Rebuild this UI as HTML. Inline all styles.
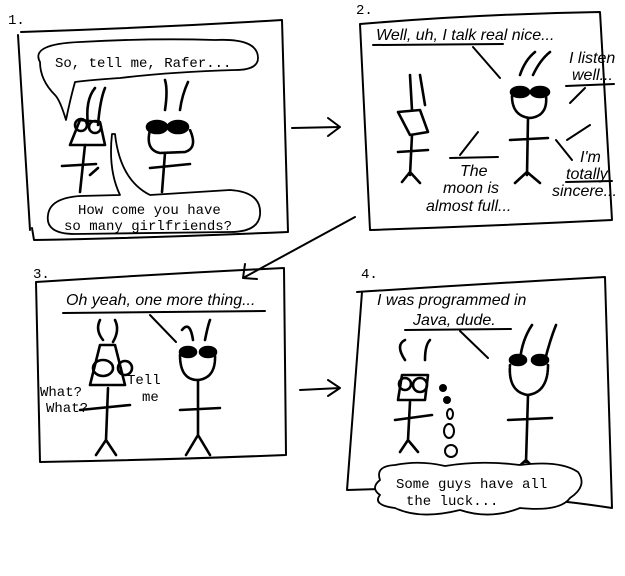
<!DOCTYPE html>
<html><head><meta charset="utf-8"><style>
html,body{margin:0;padding:0;background:#fff;width:625px;height:576px;overflow:hidden}
svg{display:block}
.m{font-family:"Liberation Mono",monospace;font-size:14px;fill:#000}
.i{font-family:"Liberation Sans",sans-serif;font-style:italic;font-size:16px;fill:#000}
.c{stroke-width:2.6}
</style></head><body>
<svg width="625" height="576" viewBox="0 0 625 576" fill="none" stroke="#000" stroke-width="2" stroke-linecap="round" stroke-linejoin="round">
<!-- Panel 1 -->
<text class="m" x="8" y="24" stroke="none">1.</text>
<path d="M21,32 Q150,28 282,20 L288,232 Q150,238 34,240 L32,228 M18,35 L30,230"/>
<path d="M40,62 Q30,44 80,42 Q150,38 215,40 Q258,38 258,58 Q258,70 235,70 Q170,72 120,78 Q90,80 75,82 Q70,100 66,120 Q60,100 55,95 Q40,80 40,62Z" stroke-width="1.8"/>
<text class="m" x="55" y="67" stroke="none">So, tell me, Rafer...</text>
<path d="M115,134 Q120,180 150,195 L230,190 Q262,192 260,215 Q258,232 230,232 L75,234 Q45,234 48,215 Q50,198 80,196 L120,195 Q108,170 112,134Z" stroke-width="1.8"/>
<text class="m" x="78" y="214" stroke="none">How come you have</text>
<text class="m" x="64" y="230" stroke="none">so many girlfriends?</text>
<g class="c">
<path d="M88,125 Q85,100 95,88 M98,125 Q100,100 105,88"/>
<circle cx="81" cy="125" r="6"/><circle cx="95" cy="127" r="6"/>
<path d="M70,145 L80,120 L100,122 L105,145 Z"/>
<path d="M85,145 L80,192 M62,166 L96,164 M90,175 L98,168"/>
<path d="M165,110 Q168,90 165,80 M180,110 Q182,95 188,82"/>
<ellipse cx="157" cy="127" rx="10" ry="6" fill="#000"/><ellipse cx="178" cy="127" rx="10" ry="6" fill="#000"/>
<path d="M150,130 Q145,150 160,153 L185,152 Q198,148 190,130" stroke-dasharray="2 1"/>
<path d="M165,153 L162,192 M150,168 L190,164"/>
</g>
<path d="M292,128 L340,127 M328,118 L340,127 L328,136"/>
<!-- Panel 2 -->
<text class="m" x="356" y="14" stroke="none">2.</text>
<path d="M360,24 Q480,14 600,12 L612,220 Q490,226 370,230 L360,24"/>
<text class="i" x="376" y="40" stroke="none">Well, uh, I talk real nice...</text>
<path d="M373,45 L503,44 M473,47 L500,78"/>
<text class="i" x="569" y="63" stroke="none">I listen</text>
<text class="i" x="572" y="80" stroke="none">well...</text>
<path d="M566,86 L614,84 M585,88 L570,103"/>
<g class="c">
<path d="M410,75 L412,110 M420,75 L425,105"/><path d="M398,112 L410,135 L428,132 L420,110Z"/>
<path d="M412,135 L410,175 M398,152 L428,150 M402,182 L410,172 L420,183"/>
<path d="M520,75 Q525,60 535,52 M533,75 Q540,60 550,52"/>
<ellipse cx="520" cy="92" rx="9" ry="5" fill="#000"/><ellipse cx="540" cy="92" rx="9" ry="5" fill="#000"/>
<path d="M512,96 Q512,116 530,118 Q548,116 546,96" stroke-dasharray="2 1"/>
<path d="M528,118 L527,175 M510,140 L548,138 M515,183 L527,172 L540,183"/>
</g>
<path d="M478,132 L460,155 M450,158 L498,157"/>
<text class="i" x="460" y="176" stroke="none">The</text>
<text class="i" x="443" y="193" stroke="none">moon is</text>
<text class="i" x="426" y="211" stroke="none">almost full...</text>
<path d="M556,140 L572,160 M567,140 L590,125"/>
<text class="i" x="580" y="162" stroke="none">I'm</text>
<text class="i" x="566" y="179" stroke="none">totally</text>
<path d="M566,182 L612,181"/>
<text class="i" x="552" y="196" stroke="none">sincere...</text>
<path d="M355,217 L243,278 M245,264 L243,278 L257,279"/>
<!-- Panel 3 -->
<text class="m" x="33" y="278" stroke="none">3.</text>
<path d="M36,282 Q160,274 284,268 L286,455 Q160,460 40,462 L36,282"/>
<text class="i" x="66" y="305" stroke="none">Oh yeah, one more thing...</text>
<path d="M63,313 L265,311 M150,315 L176,342"/>
<g class="c">
<path d="M100,320 Q95,330 103,340 M115,320 Q120,330 113,342"/>
<ellipse cx="103" cy="368" rx="10" ry="8"/><circle cx="125" cy="368" r="7"/>
<path d="M90,385 L100,345 L115,345 L125,385 Z"/>
<path d="M108,388 L106,440 M80,410 L130,405 M96,455 L106,440 L116,455"/>
<path d="M182,330 Q190,320 193,340 M205,340 Q208,325 210,320"/>
<ellipse cx="188" cy="352" rx="8" ry="5" fill="#000"/><ellipse cx="208" cy="352" rx="8" ry="5" fill="#000"/>
<path d="M180,355 Q180,380 198,380 Q216,378 215,355" stroke-dasharray="2 1"/>
<path d="M198,380 L198,435 M180,410 L220,408 M186,455 L198,435 L210,455"/>
</g>
<text class="m" x="40" y="396" stroke="none">What?</text>
<text class="m" x="46" y="412" stroke="none">What?</text>
<text class="m" x="127" y="384" stroke="none">Tell</text>
<text class="m" x="142" y="401" stroke="none">me</text>
<path d="M300,390 L340,388 M328,380 L340,388 L328,396"/>
<!-- Panel 4 -->
<text class="m" x="361" y="278" stroke="none">4.</text>
<path d="M357,292 Q480,284 605,277 L612,508 Q560,500 520,498 M362,292 L347,490 L380,489"/>
<text class="i" x="377" y="305" stroke="none">I was programmed in</text>
<text class="i" x="413" y="325" stroke="none">Java, dude.</text>
<path d="M405,330 L511,329 M460,331 L488,358"/>
<g class="c">
<path d="M405,360 Q395,345 405,340 M425,360 Q425,345 430,340"/>
<circle cx="405" cy="384" r="6"/><circle cx="420" cy="385" r="7"/>
<path d="M398,400 L402,375 L428,375 L425,400 Z"/>
<path d="M410,402 L408,440 M395,420 L432,415 M400,452 L408,440 L418,452"/>
<path d="M520,360 Q522,340 532,325 M545,360 Q550,340 556,325"/>
<ellipse cx="518" cy="360" rx="8" ry="5" fill="#000"/><ellipse cx="540" cy="360" rx="8" ry="5" fill="#000"/>
<path d="M510,365 Q508,392 528,395 Q548,392 548,365" stroke-dasharray="2 1"/>
<path d="M528,395 L526,462 M508,420 L552,418 M513,472 L526,460 L538,472"/>
</g>
<circle cx="443" cy="388" r="3" fill="#000"/><circle cx="447" cy="400" r="3" fill="#000"/>
<ellipse cx="450" cy="414" rx="3" ry="5"/><ellipse cx="449" cy="431" rx="5" ry="7"/><ellipse cx="451" cy="451" rx="6" ry="6"/>
<path d="M380,480 Q375,466 395,465 Q420,460 445,466 Q480,460 520,465 Q560,460 578,472 Q588,486 570,498 Q560,512 520,508 Q490,520 460,510 Q420,520 395,508 Q372,505 380,495 Q370,488 380,480Z" stroke-width="1.8" fill="#fff"/>
<text class="m" x="396" y="488" stroke="none">Some guys have all</text>
<text class="m" x="406" y="505" stroke="none">the luck...</text>
</svg>
</body></html>
